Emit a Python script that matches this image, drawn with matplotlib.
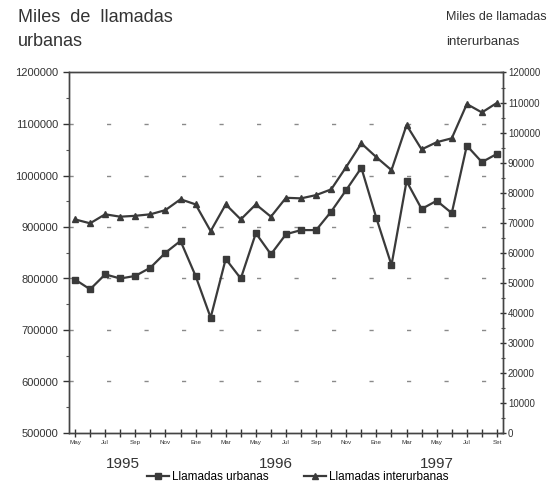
import matplotlib
matplotlib.use("Agg")
import matplotlib.pyplot as plt
from matplotlib.ticker import MultipleLocator, FixedLocator
from matplotlib.lines import Line2D
import numpy as np

plt.rcParams['font.family'] = ['Liberation Sans', 'DejaVu Sans']

months = ["May", "Jun", "Jul", "Ago", "Sep", "Oct", "Nov", "Dic", "Ene", "Feb", "Mar", "Abr",
          "May", "Jun", "Jul", "Ago", "Sep", "Oct", "Nov", "Dic", "Ene", "Feb", "Mar", "Abr",
          "May", "Jun", "Jul", "Ago", "Set"]
tick_labels = ["May", "", "Jul", "", "Sep", "", "Nov", "", "Ene", "", "Mar", "",
               "May", "", "Jul", "", "Sep", "", "Nov", "", "Ene", "", "Mar", "",
               "May", "", "Jul", "", "Set"]
years = ["1995", "1996", "1997"]
year_pos = [3.2, 13.3, 24.0]

urbanas = [798000, 779000, 808000, 800000, 805000, 821000, 850000, 873000, 805000, 724000,
           838000, 800000, 888000, 847000, 886000, 894000, 894000, 930000, 972000, 1015000,
           917000, 826000, 989000, 935000, 951000, 927000, 1058000, 1026000, 1042000]
interurbanas = [71100, 69800, 72800, 72000, 72300, 72800, 74200, 77800, 76100, 67200,
                76100, 71100, 76100, 72000, 78300, 78100, 79200, 81100, 88600, 96400,
                91800, 87500, 102500, 94400, 96800, 98100, 109500, 106700, 109900]

x = np.arange(len(months))
lc = '#3a3a3a'

fig = plt.figure(figsize=(5.52, 4.90), dpi=100)
ax = fig.add_axes([69/552, 1-433/490, (503-69)/552, (433-72.5)/490])
ax2 = ax.twinx()

ax.set_xlim(-0.4, 28.4)
ax.set_ylim(500000, 1200000)
ax2.set_ylim(0, 120000)

# grid (sparse dashes)
for v in range(600000, 1200000, 100000):
    ax.axhline(v, color='#8a8a8a', lw=1.0, linestyle=(0, (3, 24)), zorder=0.5)

ax.plot(x, urbanas, color=lc, lw=1.6, marker='s', ms=4.5, mfc=lc, mec=lc, zorder=3)
ax2.plot(x, interurbanas, color=lc, lw=1.6, marker='^', ms=4, mfc=lc, mec=lc, zorder=3)

for a in (ax, ax2):
    for s in a.spines.values():
        s.set_color('#444444')
        s.set_linewidth(1.0)

ax.yaxis.set_major_locator(MultipleLocator(100000))
ax.yaxis.set_minor_locator(MultipleLocator(50000))
ax.set_yticklabels([f"{int(v)}" for v in ax.get_yticks()])
ax.tick_params(axis='y', which='major', direction='out', length=4, width=1, labelsize=8, pad=4, colors='#333333')
ax.tick_params(axis='y', which='minor', direction='out', length=2.5, width=0.8, colors='#555555')

ax2.yaxis.set_major_locator(MultipleLocator(10000))
ax2.yaxis.set_minor_locator(MultipleLocator(5000))
ax2.set_yticklabels([f"{int(v)}" for v in ax2.get_yticks()])
ax2.tick_params(axis='y', which='major', direction='inout', length=5, width=1, labelsize=7, pad=1, colors='#333333')
ax2.tick_params(axis='y', which='minor', direction='inout', length=2.5, width=0.8, colors='#555555')

ax.xaxis.set_major_locator(FixedLocator(x))
ax.set_xticklabels(tick_labels)
ax.tick_params(axis='x', direction='inout', length=6, width=1, labelsize=4.5, pad=2, colors='#333333')

for yp, yl in zip(year_pos, years):
    ax.text(yp, -0.085, yl, transform=ax.get_xaxis_transform(), ha='center', va='center',
            fontsize=11, color='#333333')

# titles
fig.text(18/552, 1-17/490, "Miles  de  llamadas", fontsize=13, color='#333333', va='center', ha='left')
fig.text(18/552, 1-42/490, "urbanas", fontsize=13, color='#333333', va='center', ha='left')
fig.text(446/552, 1-17/490, "Miles de llamadas", fontsize=9, color='#333333', va='center', ha='left')
fig.text(446/552, 1-42/490, "interurbanas", fontsize=9.5, color='#333333', va='center', ha='left')

handles = [Line2D([], [], color=lc, lw=1.6, marker='s', ms=4.5),
           Line2D([], [], color=lc, lw=1.6, marker='^', ms=4)]
fig.legend(handles, ["Llamadas urbanas", "Llamadas interurbanas"], loc='center',
           bbox_to_anchor=(298/552, 1-477/490), ncol=2, frameon=False, fontsize=8.5,
           handlelength=1.8, handletextpad=0.3, columnspacing=3.0)

fig.savefig("out.png", dpi=100)
